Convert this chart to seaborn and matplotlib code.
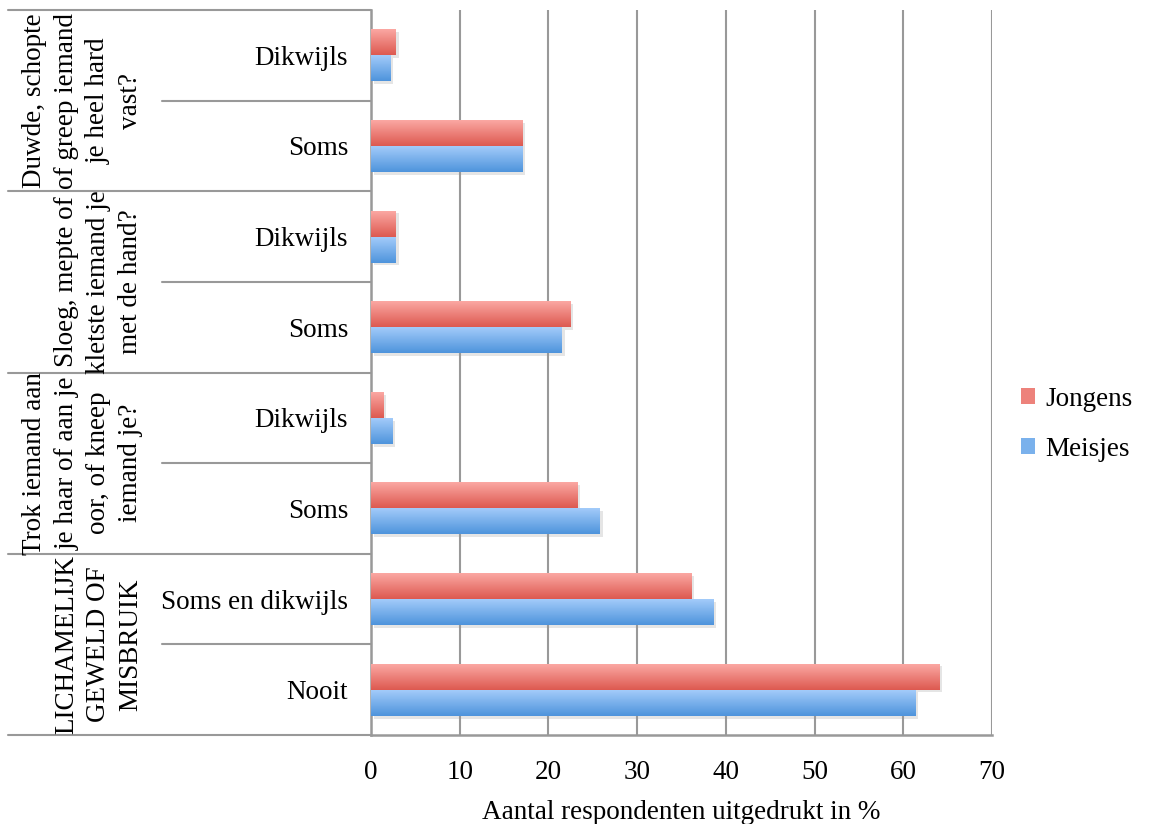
import numpy as np
import pandas as pd
import matplotlib
matplotlib.use("Agg")
import matplotlib.pyplot as plt
import matplotlib.patheffects as pe
from matplotlib.patches import Patch
from matplotlib.transforms import blended_transform_factory
import seaborn as sns

# ---- data ----
groups = ["Duwde, schopte\nof greep iemand\nje heel hard\nvast?",
          "Sloeg, mepte of\nkletste iemand je\nmet de hand?",
          "Trok iemand aan\nje haar of aan je\noor, of kneep\niemand je?",
          "LICHAMELIJK\nGEWELD OF\nMISBRUIK"]
answers = ["Dikwijls", "Soms", "Dikwijls", "Soms", "Dikwijls", "Soms",
           "Soms en dikwijls", "Nooit"]
answer_group = [0, 0, 1, 1, 2, 2, 3, 3]
jongens = [2.8, 17.1, 2.8, 22.5, 1.4, 23.3, 36.1, 64.1]
meisjes = [2.2, 17.1, 2.8, 21.5, 2.4, 25.8, 38.6, 61.4]
series = ["Jongens", "Meisjes"]
xticks = [0, 10, 20, 30, 40, 50, 60, 70]
xlabel = "Aantal respondenten uitgedrukt in %"

cat_ids = [f"c{i}" for i in range(len(answers))]
df = pd.DataFrame({
    "cat": cat_ids * 2,
    "value": jongens + meisjes,
    "series": [series[0]] * len(answers) + [series[1]] * len(answers),
})

sns.set_theme(style="white")
plt.rcParams["font.family"] = ["Liberation Serif", "DejaVu Serif"]
plt.rcParams["text.color"] = "black"
plt.rcParams["axes.labelcolor"] = "black"
plt.rcParams["xtick.labelcolor"] = "black"
plt.rcParams["ytick.labelcolor"] = "black"
FS = 19.5

colors = {"Jongens": ("#fcaaa6", "#dd5a50"), "Meisjes": ("#a6cdfb", "#4e94dc")}
mid = {k: tuple((np.array(matplotlib.colors.to_rgb(a)) + np.array(matplotlib.colors.to_rgb(b))) / 2)
       for k, (a, b) in colors.items()}

fig = plt.figure(figsize=(11.63, 8.24), dpi=100)
ax = fig.add_axes([371 / 1163, 1 - 735 / 824, (992 - 371) / 1163, (735 - 10) / 824])

sns.barplot(data=df, x="value", y="cat", hue="series", hue_order=series,
            order=cat_ids, orient="h", width=0.575, palette=mid,
            errorbar=None, ax=ax, legend=False, saturation=1, zorder=2)

# gradient fills + soft shadow
for patch in ax.patches:
    fc = patch.get_facecolor()
    key = "Jongens" if np.allclose(fc[:3], mid["Jongens"], atol=0.02) else "Meisjes"
    light, dark = [np.array(matplotlib.colors.to_rgb(c)) for c in colors[key]]
    t = np.linspace(0, 1, 64)[:, None, None]
    grad = light * (1 - t) + dark * t
    x0, y0 = patch.get_x(), patch.get_y()
    w, h = patch.get_width(), patch.get_height()
    patch.set_edgecolor("none")
    patch.set_path_effects([pe.SimplePatchShadow(offset=(2, -2), shadow_rgbFace="#999999", alpha=0.25),
                            pe.Normal()])
    im = ax.imshow(grad, extent=[x0, x0 + w, y0 + h, y0], origin="upper",
                   aspect="auto", zorder=3, interpolation="bilinear")
    im.set_clip_path(patch)

ax.set_xlim(0, 70)
ax.set_ylim(len(answers) - 0.5, -0.5)
ax.set_xticks(xticks)
ax.set_xticklabels([str(v) for v in xticks], fontsize=FS, color="black")
ax.set_yticks(range(len(answers)))
ax.set_yticklabels(answers, fontsize=FS, color="black")
ax.set_xlabel(xlabel, fontsize=FS, labelpad=11, color="black")
ax.set_ylabel("")

gcol = "#999999"
ax.grid(axis="x", color=gcol, linewidth=1.5, zorder=0)
ax.set_axisbelow(True)
for s in ["top", "right"]:
    ax.spines[s].set_visible(False)
for s in ["left", "bottom"]:
    ax.spines[s].set_color(gcol)
    ax.spines[s].set_linewidth(1.8)
ax.tick_params(axis="x", length=6, width=1.5, color=gcol, pad=12, labelcolor="black")
ax.tick_params(axis="y", length=0, pad=16.5, labelcolor="black")

# multi-level category table on the left
tr = blended_transform_factory(ax.transAxes, ax.transData)
x_outer = (8 - 371) / (992 - 371)
x_inner = (162 - 371) / (992 - 371)
for b in [-0.5, 1.5, 3.5, 5.5, 7.5]:
    ax.plot([x_outer, 0], [b, b], transform=tr, color=gcol, lw=1.5, clip_on=False)
for b in [0.5, 2.5, 4.5, 6.5]:
    ax.plot([x_inner, 0], [b, b], transform=tr, color=gcol, lw=1.5, clip_on=False)

x_grp = (143 - 371) / (992 - 371)
for gi, g in enumerate(groups):
    yc = 2 * gi + 0.5
    ax.text(x_grp, yc, g, transform=tr, rotation=90, ha="right", va="center",
            multialignment="center", fontsize=FS, linespacing=1.36, color="black")

handles = [Patch(facecolor=mid[s], edgecolor="none") for s in series]
fig.legend(handles, series, loc="center left", bbox_to_anchor=(0.878, 0.485),
           frameon=False, fontsize=FS, handlelength=0.52, handleheight=0.52,
           handletextpad=0.37, labelspacing=0.93, borderaxespad=0, borderpad=0,
           labelcolor="black")

fig.savefig("out.png", dpi=100)
